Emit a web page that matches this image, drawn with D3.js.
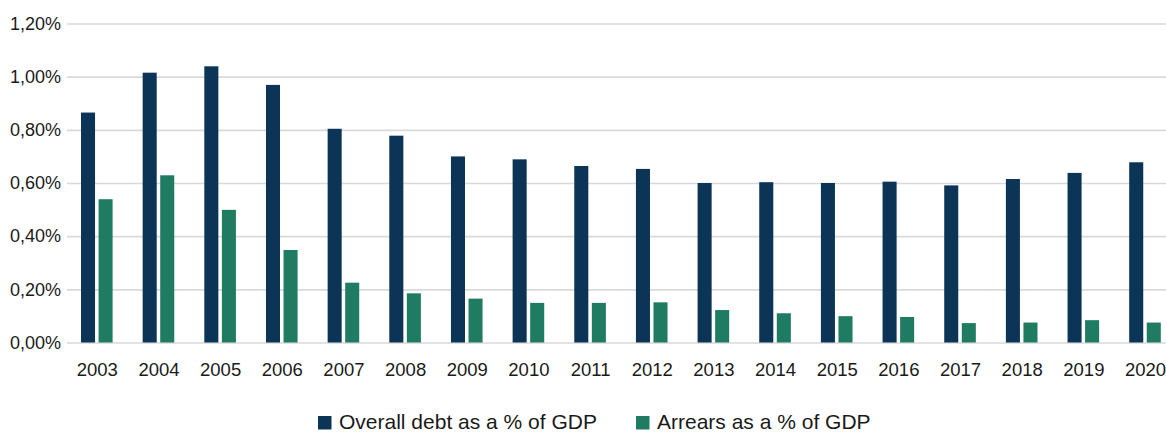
<!DOCTYPE html>
<html>
<head>
<meta charset="utf-8">
<script src="https://cdn.jsdelivr.net/npm/d3@7"></script>
<style>
  html, body { margin: 0; padding: 0; background: #ffffff; }
  svg { display: block; font-family: "Liberation Sans", Arial, sans-serif; }
</style>
</head>
<body>
<svg id="chart" width="1166" height="433"></svg>
<script>
// Yearly series, in percent of GDP
const years = ["2003","2004","2005","2006","2007","2008","2009","2010","2011","2012",
               "2013","2014","2015","2016","2017","2018","2019","2020"];
const overallDebt = [0.865, 1.015, 1.039, 0.969, 0.804, 0.778, 0.700, 0.689, 0.664, 0.653,
                     0.600, 0.603, 0.600, 0.605, 0.591, 0.615, 0.638, 0.678];
const arrears = [0.539, 0.629, 0.499, 0.348, 0.225, 0.185, 0.165, 0.149, 0.149, 0.151,
                 0.122, 0.110, 0.099, 0.096, 0.073, 0.075, 0.084, 0.075];
const seriesNames = ["Overall debt as a % of GDP", "Arrears as a % of GDP"];
const yTicks = [0, 0.2, 0.4, 0.6, 0.8, 1.0, 1.2];

const colors = ["#0b3457", "#1f7b61"];

const svg = d3.select("#chart");
const W = 1166;

const y = d3.scaleLinear().domain([0, 1.2]).range([342.5, 23.5]);
const x = d3.scalePoint().domain(years).range([96.8, 1145]);
const xSub = d3.scaleBand().domain([0, 1]).range([-15.8, 15.8]).paddingInner(0.2);

const fmt = v => d3.format(".2f")(v).replace(".", ",") + "%";

// Horizontal gridlines with percentage labels
const yAxis = d3.axisLeft(y).tickValues(yTicks).tickFormat(fmt).tickSize(0).tickPadding(6);
const gy = svg.append("g").attr("transform", "translate(67,0)").call(yAxis);
gy.select(".domain").remove();
gy.selectAll(".tick line").remove();
gy.selectAll(".tick")
  .append("line")
  .attr("x1", 0).attr("x2", W - 67)
  .attr("stroke", "#d9d9d9").attr("stroke-width", 1.6);
gy.selectAll(".tick text")
  .attr("font-size", 18)
  .attr("fill", "#1a1a1a")
  .attr("font-family", "Liberation Sans, Arial, sans-serif");

// Bars: overall debt and arrears side by side for each year
const rows = years.map((yr, i) => ({ year: yr, vals: [overallDebt[i], arrears[i]] }));
const groups = svg.append("g").selectAll("g").data(rows).join("g")
  .attr("transform", d => `translate(${x(d.year)},0)`);
groups.selectAll("rect")
  .data(d => d.vals.map((v, k) => ({ k, v })))
  .join("rect")
  .attr("x", d => xSub(d.k))
  .attr("width", xSub.bandwidth())
  .attr("y", d => y(d.v))
  .attr("height", d => y(0) - y(d.v))
  .attr("fill", d => colors[d.k]);

// Year labels
const xAxis = d3.axisBottom(x).tickSize(0).tickPadding(0);
const gx = svg.append("g").attr("transform", "translate(0,342.5)").call(xAxis);
gx.select(".domain").remove();
gx.selectAll(".tick text")
  .attr("y", 33.5).attr("dy", 0)
  .attr("font-size", 18.5)
  .attr("fill", "#1a1a1a")
  .attr("font-family", "Liberation Sans, Arial, sans-serif");

// Legend
const legendX = [318, 636];
const legend = svg.append("g");
seriesNames.forEach((name, k) => {
  legend.append("rect")
    .attr("x", legendX[k]).attr("y", 416)
    .attr("width", 13.5).attr("height", 13.5)
    .attr("fill", colors[k]);
  legend.append("text")
    .attr("x", legendX[k] + 21).attr("y", 429)
    .attr("font-size", 21)
    .attr("fill", "#1a1a1a")
    .text(name);
});
</script>
</body>
</html>
